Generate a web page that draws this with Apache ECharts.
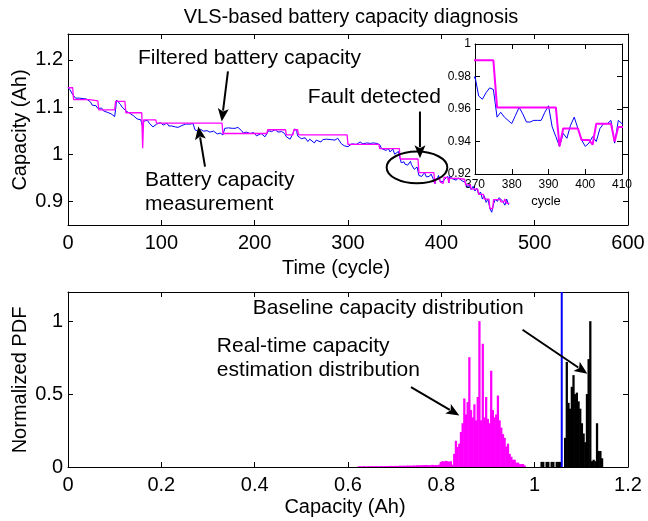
<!DOCTYPE html>
<html><head><meta charset="utf-8">
<script src="https://cdn.jsdelivr.net/npm/echarts@6/dist/echarts.min.js"></script>
<style>html,body{margin:0;padding:0;background:#fff}#c{width:648px;height:521px}</style>
</head><body><div id="c"></div>
<script>
const FONT = 'Liberation Sans, Arial, Helvetica, sans-serif';

// ---- Top plot data: battery capacity measurement (cycle, Ah) ----
const blueMeasured = [[0,1.142],[2,1.137],[4,1.13],[6,1.124],[8,1.119],[10,1.117],[12,1.119],[14,1.116],[16,1.118],[18,1.116],[20,1.117],[22,1.115],[24,1.111],[26,1.104],[28,1.1],[30,1.103],[32,1.097],[34,1.093],[36,1.098],[38,1.092],[40,1.095],[42,1.089],[44,1.088],[46,1.086],[48,1.082],[50,1.08],[51,1.095],[52,1.115],[54,1.111],[56,1.106],[58,1.1],[60,1.098],[62,1.092],[64,1.09],[66,1.087],[68,1.086],[70,1.082],[72,1.079],[74,1.075],[76,1.076],[78,1.073],[79,1.072],[80,1.057],[81,1.07],[83,1.068],[85,1.072],[87,1.066],[89,1.062],[91,1.058],[93,1.06],[95,1.064],[97,1.063],[99,1.067],[102,1.062],[104,1.064],[106,1.066],[108,1.06],[109,1.057],[111,1.06],[113,1.062],[115,1.058],[116,1.055],[118,1.057],[120,1.059],[122,1.061],[124,1.062],[126,1.064],[128,1.063],[131,1.064],[133,1.066],[134,1.065],[136,1.052],[138,1.049],[140,1.048],[142,1.053],[143,1.055],[145,1.049],[147,1.045],[149,1.05],[150,1.052],[152,1.047],[154,1.045],[156,1.049],[158,1.047],[160,1.043],[161,1.041],[163,1.045],[165,1.044],[166,1.041],[168,1.055],[170,1.053],[172,1.056],[174,1.053],[176,1.055],[179,1.055],[182,1.057],[184,1.055],[186,1.05],[188,1.045],[190,1.048],[191,1.047],[193,1.045],[195,1.044],[197,1.047],[199,1.046],[200,1.042],[202,1.039],[204,1.043],[207,1.044],[209,1.04],[211,1.037],[213,1.041],[215,1.05],[218,1.048],[220,1.051],[222,1.052],[225,1.047],[227,1.05],[229,1.048],[232,1.044],[234,1.037],[236,1.034],[238,1.032],[240,1.04],[243,1.054],[245,1.049],[246,1.039],[248,1.036],[250,1.033],[252,1.037],[254,1.035],[257,1.027],[259,1.032],[261,1.03],[264,1.024],[266,1.03],[268,1.032],[271,1.026],[273,1.031],[275,1.029],[277,1.032],[279,1.028],[282,1.031],[284,1.028],[286,1.03],[289,1.034],[291,1.028],[293,1.022],[296,1.018],[298,1.02],[300,1.016],[302,1.02],[304,1.022],[306,1.025],[309,1.021],[311,1.024],[313,1.026],[316,1.022],[318,1.025],[320,1.024],[322,1.021],[324,1.023],[327,1.024],[329,1.022],[331,1.023],[334,1.02],[336,1.012],[338,1.015],[341,1.008],[343,1.013],[345,1.005],[348,1.011],[350,1.0],[352,1.004],[354,1.006],[356,0.99],[357,0.982],[358,0.978],[360,0.984],[361,0.979],[362,0.976],[363,0.983],[364,0.977],[365,0.975],[366,0.981],[367,0.985],[368,0.978],[369,0.976],[370,0.98],[371,0.968],[372,0.966],[373,0.97],[374,0.973],[375,0.972],[376,0.955],[377,0.958],[378,0.955],[379,0.953],[380,0.951],[381,0.956],[382,0.961],[383,0.957],[384,0.952],[385,0.952],[386,0.953],[387,0.953],[388,0.953],[389,0.958],[390,0.962],[391,0.949],[392,0.943],[393,0.937],[394,0.945],[395,0.942],[396,0.95],[397,0.955],[398,0.948],[399,0.941],[400,0.937],[401,0.939],[402,0.943],[403,0.94],[404,0.948],[405,0.951],[406,0.951],[407,0.953],[408,0.939],[409,0.953],[410,0.951],[412,0.948],[414,0.952],[416,0.945],[418,0.95],[420,0.947],[422,0.944],[424,0.948],[426,0.94],[428,0.93],[430,0.935],[432,0.925],[434,0.932],[436,0.922],[438,0.928],[440,0.915],[442,0.92],[444,0.905],[446,0.912],[448,0.898],[450,0.905],[452,0.885],[454,0.877],[456,0.895],[458,0.905],[460,0.9],[462,0.908],[464,0.905],[466,0.9],[468,0.892],[470,0.905],[472,0.893]];

// ---- Filtered battery capacity: [firstCycle, lastCycle, Ah] held values ----
const filteredSegments = [[0,5,1.141],[6,23,1.116],[24,32,1.113],[33,50,1.094],[51,61,1.112],[62,79,1.088],[80,80,1.013],[81,94,1.073],[95,165,1.066],[166,213,1.044],[214,233,1.052],[234,241,1.041],[242,246,1.052],[247,299,1.041],[300,333,1.021],[334,355,1.012],[356,375,0.99],[376,392,0.961],[393,393,0.937],[394,398,0.948],[399,401,0.941],[402,402,0.938],[403,407,0.951],[408,408,0.94],[409,417,0.949],[418,425,0.947],[426,431,0.935],[432,439,0.926],[440,445,0.915],[446,451,0.905],[452,455,0.885],[456,463,0.904],[464,467,0.899],[468,469,0.905],[470,473,0.896]];

// ---- Bottom plot: normalized PDFs (bin start, bin width, heights) ----
const binWidth = 0.0036;
const realTimeStart = 0.62;
const realTimeHeights = [0.004,0.005,0.004,0.006,0.005,0.004,0.006,0.005,0.006,0.005,0.006,0.006,0.005,0.007,0.006,0.006,0.007,0.006,0.007,0.008,0.007,0.007,0.008,0.007,0.008,0.009,0.008,0.009,0.008,0.01,0.009,0.01,0.009,0.011,0.01,0.012,0.011,0.012,0.013,0.012,0.014,0.013,0.012,0.012,0.015,0.012,0.014,0.012,0.016,0.034,0.04,0.038,0.042,0.04,0.036,0.04,0.015,0.09,0.18,0.137,0.16,0.24,0.3,0.47,0.36,0.445,0.753,0.39,0.34,0.43,0.32,0.48,1.0,0.32,0.845,0.34,0.48,0.33,0.3,0.66,0.39,0.34,0.36,0.49,0.32,0.27,0.225,0.2,0.14,0.16,0.09,0.07,0.05,0.05,0.03,0.03,0.02,0.02,0.02,0.01];
const baselineStart = 1.0124;
const baselineHeights = [0.035,0.035,0,0.035,0.035,0,0.035,0.035,0,0.035,0.035,0.035,0,0,0.2,0.72,0.44,0.4,0.55,0.63,0.5,0.51,0.45,0.4,0.3,0.23,0.17,0.5,0.74,1.0,0.04,0.05,0.04,0.3,0.11,0.11,0.06];
const baselineMarker = 1.058;

// ---- tick values ----
const topXTicks = [0,100,200,300,400,500,600];
const topYTicks = [0.9,1,1.1,1.2];
const botXTicks = [0,0.2,0.4,0.6,0.8,1,1.2];
const botYTicks = [0,0.5,1];
const insetXTicks = [370,380,390,400,410];
const insetYTicks = [0.92,0.94,0.96,0.98,1];

const filteredPoints = [];
filteredSegments.forEach(s => { filteredPoints.push([s[0], s[2]]); if (s[1] !== s[0]) filteredPoints.push([s[1], s[2]]); });
const realTimeBins = realTimeHeights.map((h, i) => [realTimeStart + i * binWidth, realTimeStart + (i + 1) * binWidth, h]);
const baselineBins = baselineHeights.map((h, i) => [baselineStart + i * binWidth, baselineStart + (i + 1) * binWidth, h]);

const fmt = v => String(+(+v).toFixed(3));
function axis(gridIndex, pos, min, max, ticks, fontSize, showLabel, margin) {
  return {
    type: 'value', gridIndex, position: pos, min, max,
    axisLine: { show: true, onZero: false, lineStyle: { color: '#000', width: 1 } },
    axisTick: { show: true, inside: true, length: 5, customValues: ticks, lineStyle: { color: '#000' } },
    axisLabel: { show: showLabel, customValues: ticks, formatter: fmt, color: '#000', fontFamily: FONT, fontSize, margin },
    splitLine: { show: false }
  };
}
function bars(color) {
  return function (params, api) {
    const p0 = api.coord([api.value(0), api.value(2)]);
    const p1 = api.coord([api.value(1), 0]);
    return { type: 'rect', shape: { x: p0[0], y: p0[1], width: p1[0] - p0[0] + 0.6, height: p1[1] - p0[1] }, style: { fill: color } };
  };
}

const chart = echarts.init(document.getElementById('c'), null, { renderer: 'canvas' });
chart.setOption({
  animation: false,
  backgroundColor: '#fff',
  title: { text: 'VLS-based battery capacity diagnosis', left: 346, top: 2, textAlign: 'center',
    textStyle: { fontFamily: FONT, fontSize: 20, fontWeight: 'normal', color: '#000' } },
  grid: [
    { left: 68, top: 34, width: 560, height: 191 },
    { left: 68, top: 292, width: 560, height: 175 },
    { left: 475, top: 44, width: 147, height: 130, show: true, backgroundColor: '#fff', borderWidth: 0 }
  ],
  xAxis: [
    axis(0, 'bottom', 0, 600, topXTicks, 20, true, 8),
    axis(0, 'top', 0, 600, topXTicks, 20, false, 8),
    axis(1, 'bottom', 0, 1.2, botXTicks, 20, true, 8),
    axis(1, 'top', 0, 1.2, botXTicks, 20, false, 8),
    axis(2, 'bottom', 370, 410, insetXTicks, 12, true, 5),
    axis(2, 'top', 370, 410, insetXTicks, 12, false, 5)
  ],
  yAxis: [
    axis(0, 'left', 0.85, 1.255, topYTicks, 20, true, 5),
    axis(0, 'right', 0.85, 1.255, topYTicks, 20, false, 5),
    axis(1, 'left', 0, 1.2, botYTicks, 20, true, 5),
    axis(1, 'right', 0, 1.2, botYTicks, 20, false, 5),
    axis(2, 'left', 0.92, 1, insetYTicks, 12, true, 4),
    axis(2, 'right', 0.92, 1, insetYTicks, 12, false, 4)
  ],
  series: [
    { type: 'line', xAxisIndex: 0, yAxisIndex: 0, data: blueMeasured, showSymbol: false, lineStyle: { color: '#0000ff', width: 1 }, z: 2 },
    { type: 'line', xAxisIndex: 0, yAxisIndex: 0, data: filteredPoints, showSymbol: false, lineStyle: { color: '#ff00ff', width: 1.3 }, z: 3 },
    { type: 'line', xAxisIndex: 4, yAxisIndex: 4, data: blueMeasured, showSymbol: false, clip: true, lineStyle: { color: '#0000ff', width: 1 }, z: 5 },
    { type: 'line', xAxisIndex: 4, yAxisIndex: 4, data: filteredPoints, showSymbol: false, clip: true, lineStyle: { color: '#ff00ff', width: 2 }, z: 6 },
    { type: 'custom', xAxisIndex: 2, yAxisIndex: 2, data: realTimeBins, renderItem: bars('#ff00ff'), encode: { x: [0, 1], y: 2 }, clip: true },
    { type: 'custom', xAxisIndex: 2, yAxisIndex: 2, data: baselineBins, renderItem: bars('#000000'), encode: { x: [0, 1], y: 2 }, clip: true },
    { type: 'line', xAxisIndex: 2, yAxisIndex: 2, data: [[baselineMarker, 0], [baselineMarker, 1.2]], showSymbol: false, lineStyle: { color: '#0000ff', width: 2 } }
  ]
});

// ---- annotations (positions in data coordinates) ----
const topNotes = [
  { text: 'Filtered battery capacity', at: [75, 1.203] },
  { text: 'Battery capacity', at: [82.5, 0.945] },
  { text: 'measurement', at: [82.5, 0.894] },
  { text: 'Fault detected', at: [257, 1.122] }
];
const topArrows = [
  [[171.4, 1.1757], [164.7, 1.0694]],
  [[146.8, 0.9736], [139.6, 1.0587]],
  [[377.1, 1.0906], [377.1, 0.9915]]
];
const faultEllipse = { center: [373.9, 0.972], rx: 32.5, ry: 0.0336 };
const botNotes = [
  { text: 'Baseline capacity distribution', at: [0.396, 1.087] },
  { text: 'Real-time capacity', at: [0.319, 0.827] },
  { text: 'estimation distribution', at: [0.319, 0.662] }
];
const botArrows = [
  [[0.735, 0.548], [0.8385, 0.354]],
  [[0.974, 0.941], [1.113, 0.64]]
];

const toTop = p => chart.convertToPixel({ seriesIndex: 0 }, p);
const toBot = p => chart.convertToPixel({ seriesIndex: 4 }, p);
function arrow(p0, p1) {
  const dx = p1[0] - p0[0], dy = p1[1] - p0[1], L = Math.hypot(dx, dy);
  const ux = dx / L, uy = dy / L, hl = 13, hw = 5.5;
  const bx = p1[0] - ux * hl, by = p1[1] - uy * hl;
  return [
    { type: 'line', shape: { x1: p0[0], y1: p0[1], x2: bx + ux * 2, y2: by + uy * 2 }, style: { stroke: '#000', lineWidth: 2 }, z: 100 },
    { type: 'polygon', shape: { points: [[p1[0], p1[1]], [bx - uy * hw, by + ux * hw], [bx + ux * 3, by + uy * 3], [bx + uy * hw, by - ux * hw]] }, style: { fill: '#000' }, z: 100 }
  ];
}
function note(n, conv) {
  const p = conv(n.at);
  return { type: 'text', x: p[0], y: p[1], style: { text: n.text, fill: '#000', font: '21px ' + FONT, align: 'left', verticalAlign: 'middle' }, z: 100 };
}
const g = [];
topNotes.forEach(n => g.push(note(n, toTop)));
botNotes.forEach(n => g.push(note(n, toBot)));
topArrows.forEach(a => g.push(...arrow(toTop(a[0]), toTop(a[1]))));
botArrows.forEach(a => g.push(...arrow(toBot(a[0]), toBot(a[1]))));
const ec = toTop(faultEllipse.center);
const ex = toTop([faultEllipse.center[0] + faultEllipse.rx, faultEllipse.center[1]]);
const ey = toTop([faultEllipse.center[0], faultEllipse.center[1] + faultEllipse.ry]);
g.push({ type: 'ellipse', shape: { cx: ec[0], cy: ec[1], rx: Math.abs(ex[0] - ec[0]), ry: Math.abs(ec[1] - ey[1]) }, style: { fill: null, stroke: '#000', lineWidth: 2 }, z: 100 });

// axis names
const names = [
  { text: 'Time (cycle)', x: 336, y: 268, rot: 0, size: 20 },
  { text: 'Capacity (Ah)', x: 345, y: 507, rot: 0, size: 20 },
  { text: 'Capacity (Ah)', x: 20, y: 130, rot: Math.PI / 2, size: 20 },
  { text: 'Normalized PDF', x: 20, y: 380, rot: Math.PI / 2, size: 20 },
  { text: 'cycle', x: 546, y: 201, rot: 0, size: 13 }
];
names.forEach(n => g.push({ type: 'text', x: n.x, y: n.y, rotation: n.rot, style: { text: n.text, fill: '#000', font: n.size + 'px ' + FONT, align: 'center', verticalAlign: 'middle' }, z: 100 }));
chart.setOption({ graphic: g });
</script>
</body></html>
